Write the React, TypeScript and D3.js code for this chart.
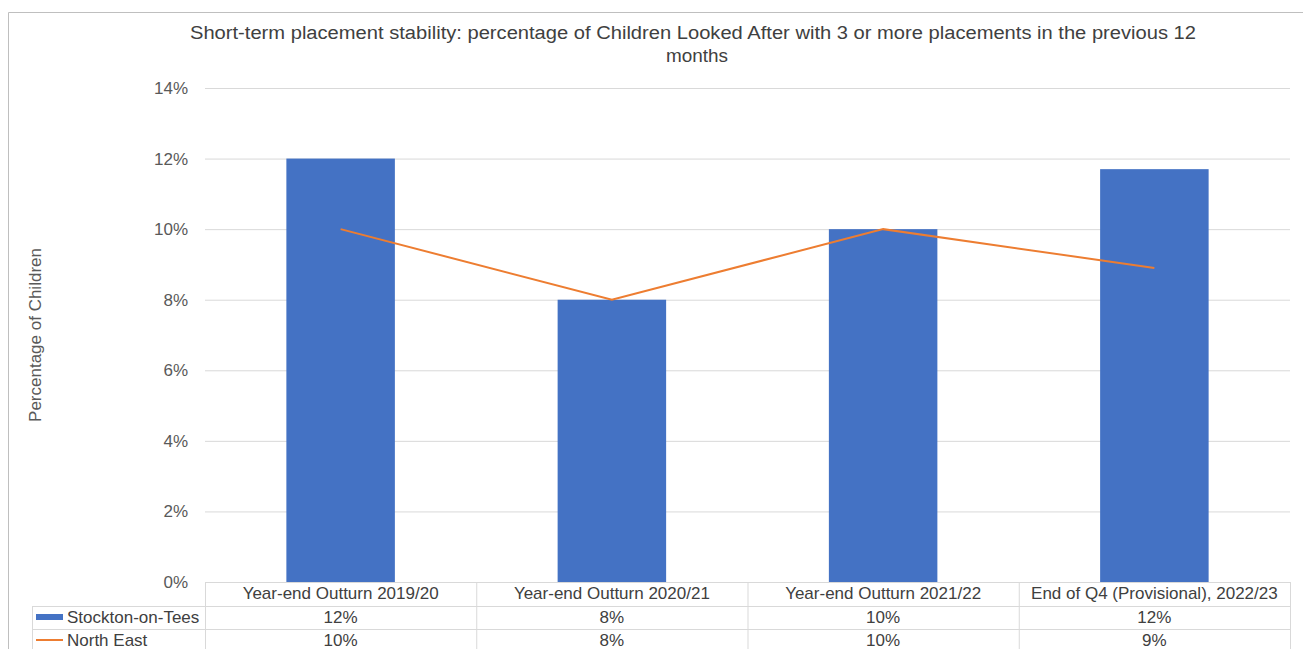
import React from 'react';
import * as d3 from 'd3';

const categories = [
  'Year-end Outturn 2019/20',
  'Year-end Outturn 2020/21',
  'Year-end Outturn 2021/22',
  'End of Q4 (Provisional), 2022/23',
];
const stocktonValues = [12, 8, 10, 11.7];
const northEastValues = [10, 8, 10, 8.9];
const stocktonLabels = ['12%', '8%', '10%', '12%'];
const northEastLabels = ['10%', '8%', '10%', '9%'];
const yTicks = [0, 2, 4, 6, 8, 10, 12, 14];

const W = 1303;
const H = 649;
const font = '"Liberation Sans", Arial, sans-serif';
const gridColor = '#d9d9d9';

export default function App() {
  const left = 205;
  const right = 1290;
  const top = 88;
  const bottom = 582;

  const x = d3.scaleBand<string>().domain(categories).range([left, right]).paddingInner(0).paddingOuter(0);
  const y = d3.scaleLinear().domain([0, 14]).range([bottom, top]);
  const barW = x.bandwidth() * 0.4;

  const line = d3
    .line<number>()
    .x((_d, i) => x(categories[i])! + x.bandwidth() / 2)
    .y((d) => y(d));

  const row1 = 606;
  const row2 = 629;
  const tableLeft = 32;
  const tableBottom = 660;

  return (
    <div style={{ position: 'absolute', left: 0, top: 0 }}>
      <svg width={W} height={H} style={{ display: 'block', background: '#fff' }} fontFamily={font}>
        {/* outer border */}
        <line x1={8.5} y1={12.5} x2={W} y2={12.5} stroke="#bfbfbf" />
        <line x1={8.5} y1={12.5} x2={8.5} y2={H} stroke="#bfbfbf" />

        {/* title */}
        <text x={693} y={39} textAnchor="middle" fontSize={18} fill="#404040" textLength={1006} lengthAdjust="spacingAndGlyphs">
          Short-term placement stability: percentage of Children Looked After with 3 or more placements in the previous 12
        </text>
        <text x={697} y={62} textAnchor="middle" fontSize={18} fill="#404040" textLength={62} lengthAdjust="spacingAndGlyphs">
          months
        </text>

        {/* grid + y ticks */}
        {yTicks.map((t) => (
          <g key={t}>
            {t > 0 && <line x1={left} x2={right} y1={y(t) + 0.5} y2={y(t) + 0.5} stroke={gridColor} />}
            <text x={188} y={y(t)} dy="0.35em" textAnchor="end" fontSize={17} fill="#595959">
              {t}%
            </text>
          </g>
        ))}

        {/* y axis title */}
        <text
          transform={`translate(41, 335) rotate(-90)`}
          textAnchor="middle"
          fontSize={17}
          fill="#595959"
        >
          Percentage of Children
        </text>

        {/* bars */}
        {stocktonValues.map((v, i) => (
          <rect
            key={i}
            x={x(categories[i])! + (x.bandwidth() - barW) / 2}
            y={y(v)}
            width={barW}
            height={y(0) - y(v)}
            fill="#4472c4"
          />
        ))}

        {/* line */}
        <path d={line(northEastValues) ?? ''} fill="none" stroke="#ed7d31" strokeWidth={2} />

        {/* data table */}
        <line x1={left} x2={right} y1={bottom + 0.5} y2={bottom + 0.5} stroke={gridColor} />
        <line x1={tableLeft} x2={right} y1={row1 + 0.5} y2={row1 + 0.5} stroke={gridColor} />
        <line x1={tableLeft} x2={right} y1={row2 + 0.5} y2={row2 + 0.5} stroke={gridColor} />
        <line x1={tableLeft + 0.5} x2={tableLeft + 0.5} y1={row1} y2={tableBottom} stroke={gridColor} />
        {categories.map((c) => (
          <line key={c} x1={x(c)! + 0.5} x2={x(c)! + 0.5} y1={bottom} y2={tableBottom} stroke={gridColor} />
        ))}
        <line x1={right + 0.5} x2={right + 0.5} y1={bottom} y2={tableBottom} stroke={gridColor} />

        {categories.map((c, i) => (
          <g key={c} fontSize={17} fill="#404040" textAnchor="middle">
            <text x={x(c)! + x.bandwidth() / 2} y={593} dy="0.35em">{c}</text>
            <text x={x(c)! + x.bandwidth() / 2} y={617} dy="0.35em">{stocktonLabels[i]}</text>
            <text x={x(c)! + x.bandwidth() / 2} y={640} dy="0.35em">{northEastLabels[i]}</text>
          </g>
        ))}

        {/* legend keys */}
        <rect x={36} y={614} width={27} height={6} fill="#4472c4" />
        <text x={67} y={617} dy="0.35em" fontSize={17} fill="#404040">Stockton-on-Tees</text>
        <line x1={36} x2={63} y1={640} y2={640} stroke="#ed7d31" strokeWidth={2} />
        <text x={67} y={640} dy="0.35em" fontSize={17} fill="#404040">North East</text>
      </svg>
    </div>
  );
}
